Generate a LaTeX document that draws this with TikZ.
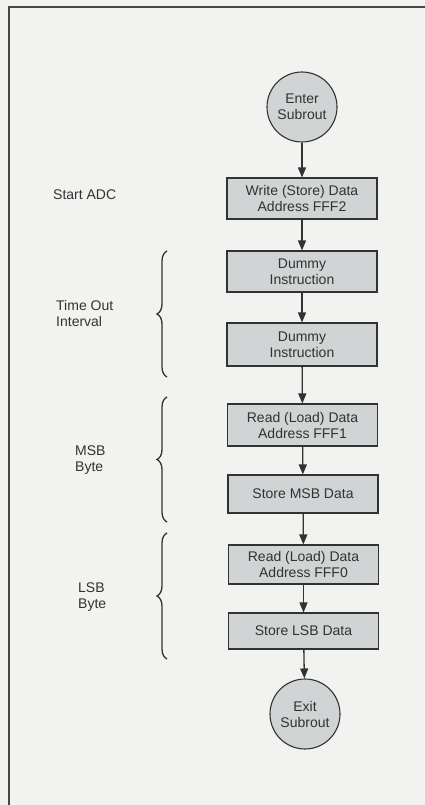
\documentclass[tikz,border=0pt]{standalone}
\usepackage{fontspec}
\setmainfont{Liberation Sans}
\usetikzlibrary{arrows.meta,decorations.pathreplacing}
\definecolor{bg}{RGB}{242,242,240}
\definecolor{boxfill}{RGB}{208,212,212}
\definecolor{ink}{RGB}{50,50,50}
\begin{document}
\begin{tikzpicture}[x=1pt,y=-1pt,
  font=\fontsize{14}{16}\selectfont,
  every node/.style={text=ink},
  stepbox/.style={draw=ink,line width=1.1pt,fill=boxfill,minimum width=150pt,inner sep=0pt,align=center},
  term/.style={circle,draw=ink,line width=1.1pt,fill=boxfill,minimum size=70pt,inner sep=0pt,align=center},
  flow/.style={draw=ink,line width=1.3pt,-{Triangle[length=10pt,width=8pt]}},
  bracestyle/.style={draw=ink,line width=1.3pt,decorate,decoration={brace,amplitude=10pt}},
  sidelabel/.style={anchor=west,align=left,inner sep=0pt}]
\fill[bg] (0,0) rectangle (425,805);
\useasboundingbox (0,0) rectangle (425,805);
\draw[ink!90,line width=1.6pt] (9,805) -- (9,7) -- (425,7);

\node[term] (enter) at (302,107) {Enter\\Subrout};
\node[stepbox,minimum height=41pt] (write) at (302,198.5) {Write (Store) Data\\Address FFF2};
\node[stepbox,minimum height=41pt] (dummy1) at (302,271.5) {Dummy\\Instruction};
\node[stepbox,minimum height=43pt] (dummy2) at (302,344.5) {Dummy\\Instruction};
\node[stepbox,minimum height=42pt] (read1) at (302.5,425) {Read (Load) Data\\Address FFF1};
\node[stepbox,minimum height=38pt] (storemsb) at (303,494) {Store MSB Data};
\node[stepbox,minimum height=39pt] (read2) at (303.5,564.5) {Read (Load) Data\\Address FFF0};
\node[stepbox,minimum height=36pt] (storelsb) at (303.5,631) {Store LSB Data};
\node[term] (exit) at (305,714) {Exit\\Subrout};

\draw[flow] (enter) -- (write);
\draw[flow] (write) -- (dummy1);
\draw[flow] (dummy1) -- (dummy2);
\draw[flow] (dummy2) -- (read1);
\draw[flow] (read1) -- (storemsb);
\draw[flow] (storemsb) -- (read2);
\draw[flow] (read2) -- (storelsb);
\draw[flow] (storelsb) -- (exit);

\node[sidelabel] (startadc) at (53,195) {Start ADC};
\node[sidelabel] (timeout) at (56,313) {Time Out\\Interval};
\node[sidelabel] (msb) at (75,460) {MSB\\Byte};
\node[sidelabel] (lsb) at (78,597) {LSB\\Byte};

\coordinate (b1s) at (167,377); \coordinate (b1e) at (167,251);
\coordinate (b2s) at (167,522); \coordinate (b2e) at (167,397);
\coordinate (b3s) at (167,659); \coordinate (b3e) at (167,533);
\draw[bracestyle] (b1s) -- (b1e);
\draw[bracestyle] (b2s) -- (b2e);
\draw[bracestyle] (b3s) -- (b3e);
\end{tikzpicture}
\end{document}
